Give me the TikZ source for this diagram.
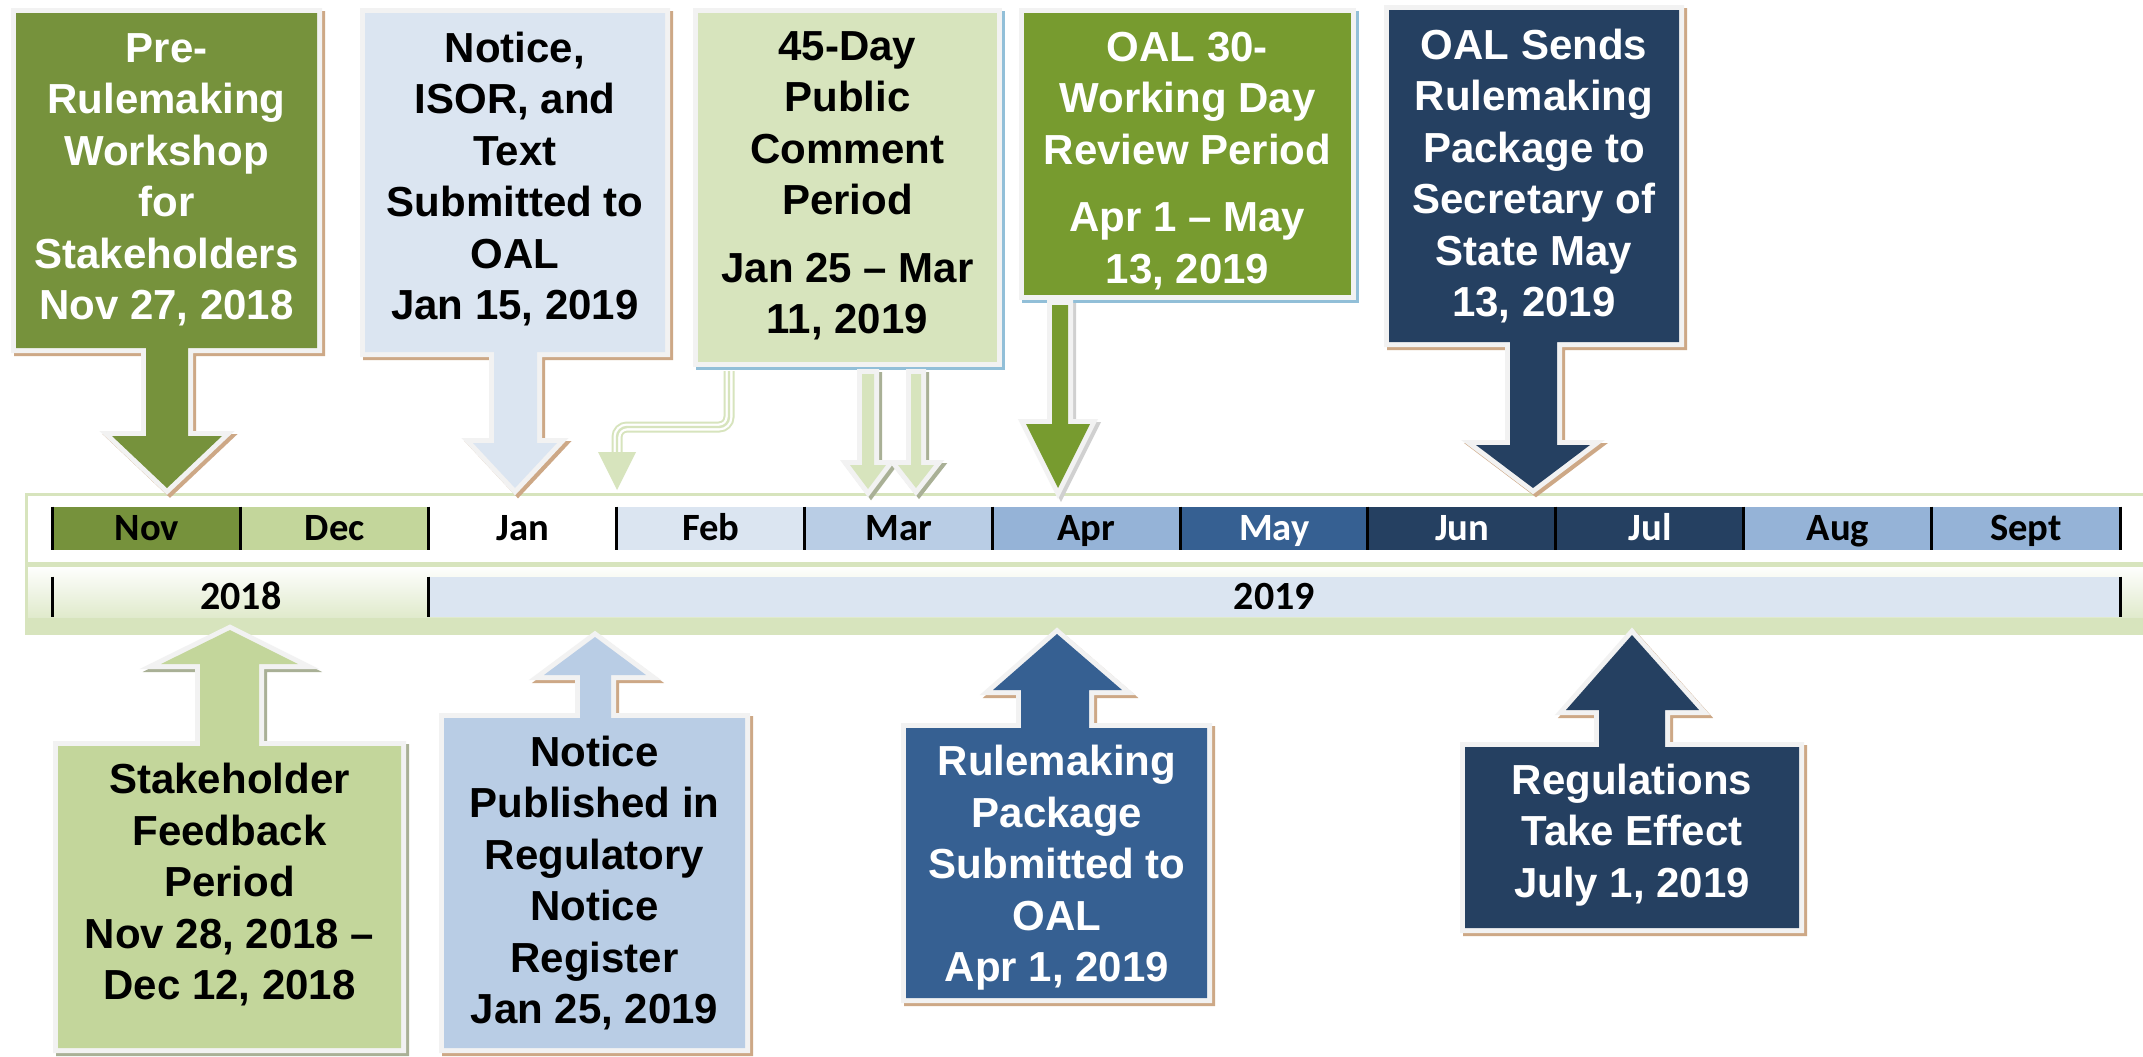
\documentclass[tikz,border=0pt]{standalone}
\usepackage{fontspec}
\setmainfont{Liberation Sans}
\newfontfamily\calfont{Carlito}
\definecolor{cOlive}{HTML}{76923C}
\definecolor{cOliveB}{HTML}{779B2F}
\definecolor{cLtGreen}{HTML}{C3D69B}
\definecolor{cPaleGreen}{HTML}{D7E4BD}
\definecolor{cPaleBlue}{HTML}{DBE5F1}
\definecolor{cLtBlue}{HTML}{B9CDE5}
\definecolor{cMidBlue}{HTML}{95B3D7}
\definecolor{cSteel}{HTML}{366092}
\definecolor{cNavy}{HTML}{254061}
\definecolor{cBorder}{HTML}{F2F2F2}
\definecolor{cTan}{HTML}{CDA886}
\definecolor{cShBlue}{HTML}{92BFD8}
\definecolor{cShGray}{HTML}{A9B096}
\definecolor{cShLight}{HTML}{D0D0D0}
\newcommand\callout[3]{%
  \begin{scope}[shift={(3,3)}]\filldraw[draw=#3,fill=#3,line width=5pt,line join=miter] #1;\end{scope}
  \filldraw[draw=cBorder,fill=#2,line width=5pt,line join=miter] #1;
  \fill[#2] #1;}
\begin{document}
\begin{tikzpicture}[x=0.5pt,y=-0.5pt,
  txt/.style={font=\bfseries\fontsize{21}{25.75}\selectfont, align=center, inner sep=0pt},
  mlbl/.style={font=\calfont\bfseries\fontsize{19.3}{20}\selectfont, inner sep=0pt,
    minimum height=21.5pt, minimum width=93.95pt, text height=12.4pt, text depth=0pt},
  ylbl/.style={font=\calfont\bfseries\fontsize{20}{21}\selectfont, inner sep=0pt,
    minimum height=20pt, text height=12.8pt, text depth=0pt}]
\useasboundingbox (0,0) rectangle (2143,1056);
\clip (0,0) rectangle (2143,1056);
\fill[white] (0,0) rectangle (2143,1056);

% ---- timeline band ----
\fill[white] (26,494) rectangle (2160,563);
\shade[top color=white, bottom color=cPaleGreen] (26,565) rectangle (2160,633);
\fill[cPaleGreen] (26,618) rectangle (2160,633);
\draw[cPaleGreen, line width=1.5pt] (2160,494) -- (26,494) -- (26,633) -- (2160,633);
\draw[cPaleGreen, line width=2.5pt] (26,564) -- (2160,564);

% months
\foreach \i/\name/\fc/\tc in {0/Nov/cOlive/black,1/Dec/cLtGreen/black,2/Jan/white/black,
  3/Feb/cPaleBlue/black,4/Mar/cLtBlue/black,5/Apr/cMidBlue/black,6/May/cSteel/white,
  7/Jun/cNavy/white,8/Jul/cNavy/white,9/Aug/cMidBlue/black,10/Sept/cMidBlue/black}
  {\node[mlbl, fill=\fc, text=\tc] (m\i) at ({53+187.9*\i+93.95},528.5) {\name};}
\foreach \i in {0,...,10}
  {\draw[line width=1.5pt] (m\i.north west) -- (m\i.south west);}
\draw[line width=1.5pt] (m10.north east) -- (m10.south east);

% years
\node[ylbl, minimum width=187.8pt] (y2018) at (240.8,597) {2018};
\node[ylbl, fill=cPaleBlue, minimum width=845.7pt] (y2019) at (1274.3,597) {2019};
\draw[line width=1.5pt] (y2018.north west) -- (y2018.south west);
\draw[line width=1.5pt] (y2019.north west) -- (y2019.south west);
\draw[line width=1.5pt] (y2019.north east) -- (y2019.south east);

% ---- top callouts ----
\callout{(16,13) -- (317,13) -- (317,348) -- (188,348) -- (188,436) -- (222,436) -- (167,488) -- (112,436) -- (146,436) -- (146,348) -- (16,348) -- cycle}{cOlive}{cTan}
\callout{(365,13) -- (665,13) -- (665,352) -- (537,352) -- (537,443) -- (557,443) -- (515,488) -- (473,443) -- (494,443) -- (494,352) -- (365,352) -- cycle}{cPaleBlue}{cTan}
\callout{(698,13) -- (997,13) -- (997,362) -- (698,362) -- cycle}{cPaleGreen}{cShBlue}
\callout{(1024,13) -- (1351,13) -- (1351,295) -- (1024,295) -- cycle}{cOliveB}{cShBlue}
\callout{(1389,10) -- (1679,10) -- (1679,342) -- (1557,342) -- (1557,445) -- (1590,445) -- (1533,488) -- (1476,445) -- (1510,445) -- (1510,342) -- (1389,342) -- cycle}{cNavy}{cTan}

% arrows below the 45-day and OAL 30-day boxes
\coordinate (e1) at (729,371);
\coordinate (e2) at (617,455);
\foreach \w/\c in {5.5pt/cPaleGreen,3.5pt/white,1.2pt/cPaleGreen}
  {\draw[\c, line width=\w, rounded corners=5] (e1) -- (729,427) -- (617,427) -- (e2);}
\fill[cPaleGreen] (598,452) -- (636,452) -- (617,490) -- cycle;
\callout{(862,374) -- (874,374) -- (874,465) -- (886,465) -- (868,489) -- (850,465) -- (862,465) -- cycle}{cPaleGreen}{cShGray}
\callout{(911,374) -- (921,374) -- (921,465) -- (934,465) -- (916,488) -- (898,465) -- (911,465) -- cycle}{cPaleGreen}{cShGray}
\callout{(1052,305) -- (1068,305) -- (1068,424) -- (1090,424) -- (1058,488) -- (1026,424) -- (1052,424) -- cycle}{cOliveB}{cShLight}

% ---- bottom callouts ----
\callout{(58,1048) -- (58,746) -- (200,746) -- (200,664) -- (161,664) -- (230,630) -- (298,664) -- (259,664) -- (259,746) -- (401,746) -- (401,1048) -- cycle}{cLtGreen}{cShGray}
\callout{(444,1048) -- (444,718) -- (580,718) -- (580,675) -- (544,675) -- (595,637) -- (646,675) -- (611,675) -- (611,718) -- (745,718) -- (745,1048) -- cycle}{cLtBlue}{cTan}
\callout{(906,998) -- (906,728) -- (1021,728) -- (1021,690) -- (993,690) -- (1057,634) -- (1122,690) -- (1089,690) -- (1089,728) -- (1207,728) -- (1207,998) -- cycle}{cSteel}{cTan}
\callout{(1465,928) -- (1465,747) -- (1599,747) -- (1599,710) -- (1566,710) -- (1632,635) -- (1699,710) -- (1665,710) -- (1665,747) -- (1799,747) -- (1799,928) -- cycle}{cNavy}{cTan}

% ---- texts ----
\node[txt, text=white] (b1) at (166.5,180) {Pre-\\Rulemaking\\Workshop\\for\\Stakeholders\\Nov 27, 2018};
\node[txt] (b2) at (515,179) {Notice,\\ISOR, and\\Text\\Submitted to\\OAL\\Jan 15, 2019};
\node[txt] (b3) at (847.5,186) {45-Day\\Public\\Comment\\Period\\[8pt]Jan 25 – Mar\\11, 2019};
\node[txt, text=white] (b4) at (1187.5,161) {OAL 30-\\Working Day\\Review Period\\[8pt]Apr 1 – May\\13, 2019};
\node[txt, text=white] (b5) at (1534,176) {OAL Sends\\Rulemaking\\Package to\\Secretary of\\State May\\13, 2019};
\node[txt] (b6) at (229.5,885) {Stakeholder\\Feedback\\Period\\Nov 28, 2018 –\\Dec 12, 2018};
\node[txt] (b7) at (594.5,883) {Notice\\Published in\\Regulatory\\Notice\\Register\\Jan 25, 2019};
\node[txt, text=white] (b8) at (1057,868) {Rulemaking\\Package\\Submitted to\\OAL\\Apr 1, 2019};
\node[txt, text=white] (b9) at (1632,835) {Regulations\\Take Effect\\July 1, 2019};
\end{tikzpicture}
\end{document}
